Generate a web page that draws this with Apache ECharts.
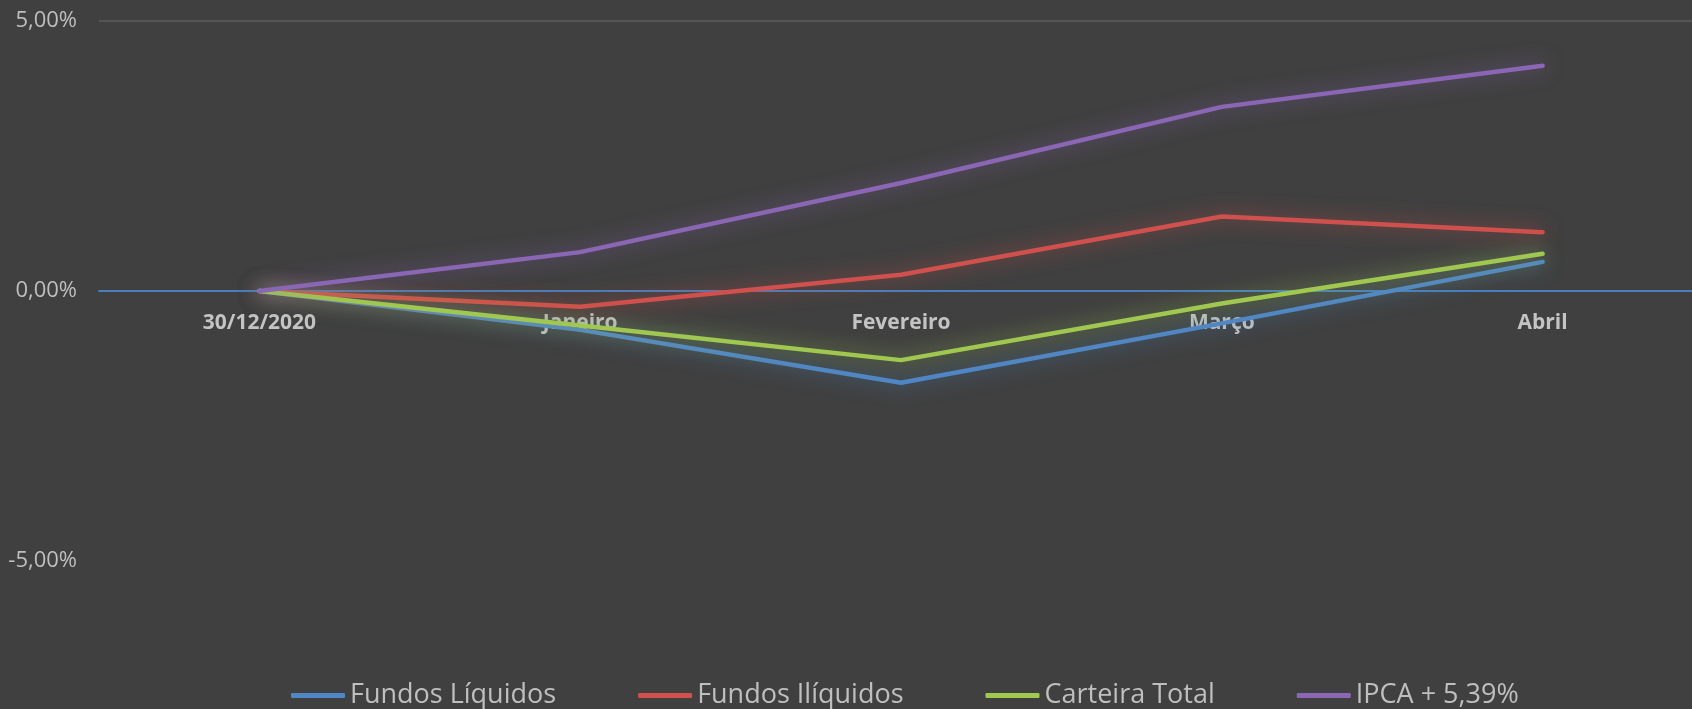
<!DOCTYPE html>
<html>
<head>
<meta charset="utf-8">
<script src="https://cdn.jsdelivr.net/npm/echarts@6/dist/echarts.min.js"></script>
<style>
html,body{margin:0;padding:0;background:#404040;}
#chart{width:1692px;height:709px;}
</style>
</head>
<body>
<div id="chart"></div>
<script>
var categories = ['30/12/2020', 'Janeiro', 'Fevereiro', 'Março', 'Abril'];
var seriesNames = ['Fundos Líquidos', 'Fundos Ilíquidos', 'Carteira Total', 'IPCA + 5,39%'];
var fundosLiquidos = [0, -0.72, -1.70, -0.60, 0.54];
var fundosIliquidos = [0, -0.29, 0.30, 1.38, 1.09];
var carteiraTotal = [0, -0.64, -1.28, -0.23, 0.69];
var ipca = [0, 0.72, 2.00, 3.41, 4.17];
var colors = ['#4f86c6', '#cf504c', '#a0c850', '#8a66b5'];

var dataSets = [fundosLiquidos, fundosIliquidos, carteiraTotal, ipca];

function hexToRgba(hex, a) {
  var n = parseInt(hex.slice(1), 16);
  return 'rgba(' + ((n >> 16) & 255) + ',' + ((n >> 8) & 255) + ',' + (n & 255) + ',' + a + ')';
}

var chart = echarts.init(document.getElementById('chart'), null, {renderer: 'canvas'});
var option = {
  backgroundColor: '#404040',
  animation: false,
  color: colors,
  grid: {left: 99, top: 21, width: 1604, height: 810, containLabel: false, outerBoundsMode: 'none'},
  legend: {
    left: 291,
    top: 682,
    padding: 0,
    itemWidth: 54,
    itemHeight: 5,
    itemGap: 82,
    icon: 'roundRect',
    textStyle: {color: '#bfbfbf', fontSize: 27, fontFamily: 'Open Sans'},
    data: seriesNames
  },
  xAxis: {
    type: 'category',
    data: categories,
    boundaryGap: true,
    position: 'bottom',
    offset: -540,
    axisLine: {show: true, onZero: false, lineStyle: {color: '#4a7ebb', width: 2}},
    axisTick: {show: false},
    axisLabel: {color: '#c4c4c4', fontSize: 21, fontWeight: 'bold', fontFamily: 'Open Sans', margin: 22},
    splitLine: {show: false}
  },
  yAxis: {
    type: 'value',
    min: -10,
    max: 5,
    interval: 5,
    axisLine: {show: false},
    axisTick: {show: false},
    axisLabel: {
      color: '#bfbfbf', fontSize: 22, fontFamily: 'Open Sans', margin: 22,
      formatter: function (v) { return v.toFixed(2).replace('.', ',') + '%'; }
    },
    splitLine: {show: true, lineStyle: {color: ['rgba(0,0,0,0)', 'rgba(0,0,0,0)', 'rgba(0,0,0,0)', '#5c5c5c'], width: 1.5}}
  },
  series: dataSets.map(function (d, i) {
    return {
      name: seriesNames[i],
      type: 'line',
      data: d,
      symbol: 'none',
      smooth: false,
      itemStyle: {color: colors[i]},
      lineStyle: {
        color: colors[i], width: 4.5, cap: 'round', join: 'round',
        shadowColor: hexToRgba(colors[i], 0.75), shadowBlur: 20
      },
      z: 2 + i
    };
  })
};
chart.setOption(option);
</script>
</body>
</html>
